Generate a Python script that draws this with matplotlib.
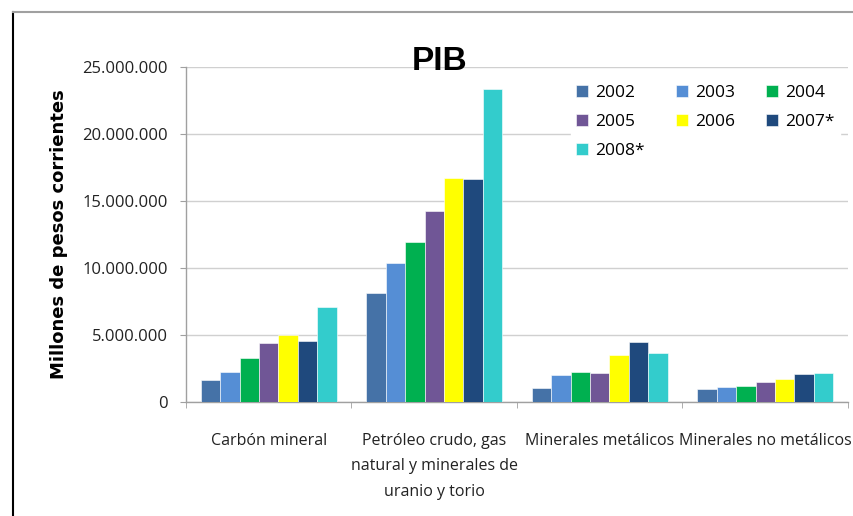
"""
PIB por sector minero, 2002-2008* (millones de pesos corrientes)
"""

import numpy as np
import matplotlib
matplotlib.use("Agg")
import matplotlib.pyplot as plt
from matplotlib.lines import Line2D

plt.rcParams['font.family'] = ['Open Sans', 'DejaVu Sans']

# Data
categories = [
    "Carbón mineral",
    "Petróleo crudo, gas\nnatural y minerales de\nuranio y torio",
    "Minerales metálicos",
    "Minerales no metálicos",
]
years = ["2002", "2003", "2004", "2005", "2006", "2007*", "2008*"]
colors = ["#4572A7", "#558ED5", "#00B050", "#705696", "#FFFF00", "#1F497D", "#33CCCC"]

pib_2002 = [1640000, 8130000, 1020000, 950000]
pib_2003 = [2260000, 10370000, 1990000, 1100000]
pib_2004 = [3260000, 11940000, 2260000, 1190000]
pib_2005 = [4400000, 14250000, 2190000, 1470000]
pib_2006 = [5000000, 16700000, 3500000, 1720000]
pib_2007 = [4580000, 16620000, 4480000, 2090000]
pib_2008 = [7070000, 23360000, 3680000, 2190000]
series = [pib_2002, pib_2003, pib_2004, pib_2005, pib_2006, pib_2007, pib_2008]

y_ticks = [0, 5000000, 10000000, 15000000, 20000000, 25000000]


def fmt_miles(v):
    # Spanish style thousands separator
    return f"{v:,.0f}".replace(",", ".")


fig = plt.figure(figsize=(8.54, 5.16), dpi=100)
ax = fig.add_axes([186 / 854, 1 - 402 / 516, (848 - 186) / 854, (402 - 67) / 516])

x = np.arange(len(categories))
width = 1 / 8.5
for i, (vals, color) in enumerate(zip(series, colors)):
    ax.bar(x + (i - 3) * width, vals, width, color=color, edgecolor="white",
           linewidth=0.4, label=years[i], zorder=3)

ax.set_xlim(-0.5, len(categories) - 0.5)
ax.set_ylim(0, 25000000)
ax.set_yticks(y_ticks)
ax.set_yticklabels([fmt_miles(v) for v in y_ticks], fontsize=12, color="#222222")
ax.grid(axis="y", color="#D0D0D0", linewidth=1, zorder=0)

ax.set_xticks(x)
ax.set_xticklabels(categories, fontsize=11.5, color="#222222", linespacing=1.8, va="top")
ax.set_xticks(np.arange(-0.5, len(categories)), minor=True)
ax.tick_params(axis="x", which="major", length=0, pad=22)
ax.tick_params(axis="x", which="minor", length=4.3, color="#A0A0A0", direction="out")
ax.tick_params(axis="y", length=4.3, color="#A0A0A0", direction="out", pad=8.6)

for side in ["top", "right"]:
    ax.spines[side].set_visible(False)
for side in ["left", "bottom"]:
    ax.spines[side].set_color("#A0A0A0")
    ax.spines[side].set_linewidth(1)

ax.set_ylabel("Millones de pesos corrientes", fontsize=13, fontweight="bold",
              family=["DejaVu Sans"])
ax.yaxis.set_label_coords(-(186 - 68) / (848 - 186), 0.5)

fig.text(440 / 854, 1 - 61 / 516, "PIB", fontsize=24, fontweight="bold",
         ha="center", va="center", family=["Liberation Sans", "DejaVu Sans"])

# Legend: matplotlib fills columns first, reorder to read row by row
handles, labels = ax.get_legend_handles_labels()
order = [0, 3, 6, 1, 4, 2, 5]
leg = ax.legend([handles[k] for k in order], [labels[k] for k in order],
                ncol=3, loc="upper left",
                bbox_to_anchor=((562 - 186) / (848 - 186), 1 - (71 - 67) / 335),
                frameon=True, fontsize=12.5,
                handlelength=0.7, handleheight=0.7,
                handletextpad=0.4, columnspacing=1.8, labelspacing=0.75,
                borderpad=0.3, fancybox=False)
leg.get_frame().set_edgecolor("white")
leg.get_frame().set_facecolor("white")
leg.get_frame().set_alpha(1)
leg.set_zorder(5)

# Outer frame of the pasted chart
fig.add_artist(Line2D([13 / 854, 13 / 854], [0, 1 - 12 / 516], color="black", linewidth=1.5))
fig.add_artist(Line2D([13 / 854, 1], [1 - 12 / 516, 1 - 12 / 516], color="#A0A0A0", linewidth=1.5))

fig.savefig("out.png", dpi=100)
